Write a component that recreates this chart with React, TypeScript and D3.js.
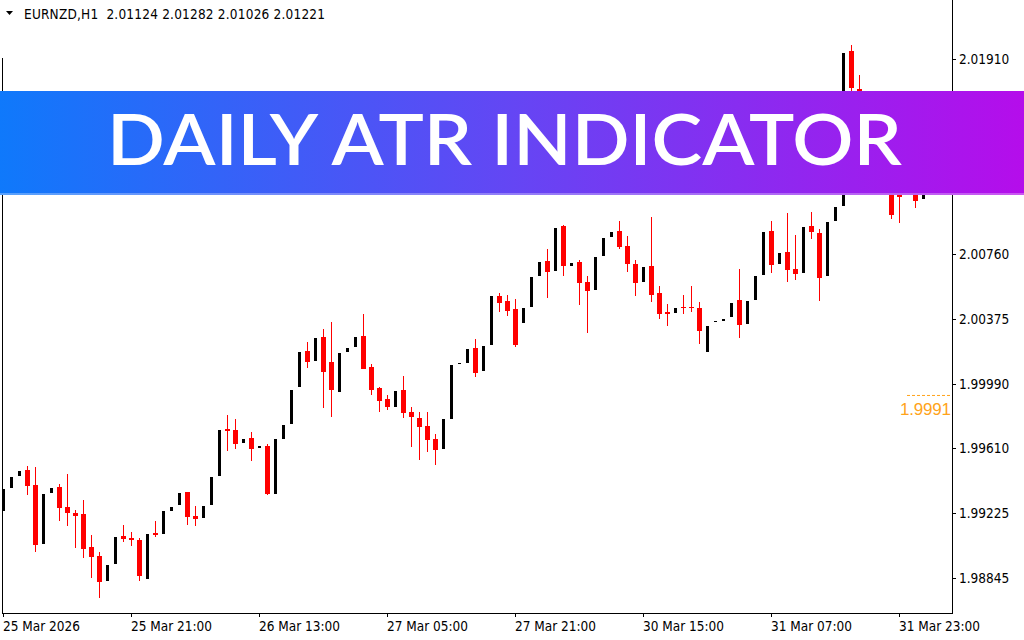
import React from 'react';
import * as d3 from 'd3';

// ---- Data (EURNZD, H1) ----
const symbolLabel = 'EURNZD,H1';
const headerQuote = ['2.01124', '2.01282', '2.01026', '2.01221'];

const opens = [
  1.99241, 1.99377, 1.99448, 1.99481, 1.99393, 1.99046, 1.99347, 1.99381, 1.99263, 1.99229,
  1.99221, 1.99026, 1.98973, 1.98827, 1.98928, 1.99091, 1.99080, 1.99068, 1.98837, 1.99109,
  1.99105, 1.99241, 1.99276, 1.99351, 1.99210, 1.99200, 1.99276, 1.99448, 1.99724, 1.99718,
  1.99643, 1.99671, 1.99613, 1.99623, 1.99342, 1.99666, 1.99755, 1.99972, 2.00185, 2.00125,
  2.00267, 2.00120, 1.99942, 2.00179, 2.00208, 2.00273, 2.00090, 1.99966, 1.99901, 1.99854,
  1.99954, 1.99824, 1.99789, 1.99741, 1.99665, 1.99606, 1.99783, 2.00108, 2.00114, 2.00202,
  2.00066, 2.00220, 2.00510, 2.00480, 2.00433, 2.00350, 2.00445, 2.00628, 2.00716, 2.00657,
  2.00923, 2.00687, 2.00710, 2.00592, 2.00545, 2.00746, 2.00858, 2.00894, 2.00805, 2.00699,
  2.00592, 2.00687, 2.00527, 2.00415, 2.00409, 2.00445, 2.00445, 2.00439, 2.00179, 2.00356,
  2.00362, 2.00385, 2.00486, 2.00344, 2.00486, 2.00634, 2.00894, 2.00699, 2.00770, 2.00669,
  2.00646, 2.00923, 2.00882, 2.00628, 2.00953, 2.01041, 2.01957, 2.01733, 2.01490, 2.01400,
  2.01470, 2.01330, 2.01120, 2.01130, 2.01190, 2.01081,
];
const highs = [
  1.99369, 1.99440, 1.99475, 1.99505, 1.99499, 1.99340, 1.99375, 1.99399, 1.99458, 1.99245,
  1.99304, 1.99097, 1.98999, 1.98920, 1.99086, 1.99156, 1.99115, 1.99078, 1.99103, 1.99180,
  1.99239, 1.99263, 1.99346, 1.99351, 1.99269, 1.99269, 1.99440, 1.99718, 1.99806, 1.99783,
  1.99665, 1.99706, 1.99623, 1.99635, 1.99665, 1.99747, 1.99954, 2.00179, 2.00238, 2.00261,
  2.00315, 2.00356, 2.00173, 2.00202, 2.00267, 2.00403, 2.00108, 1.99972, 1.99925, 1.99948,
  2.00037, 1.99854, 1.99824, 1.99824, 1.99694, 1.99783, 2.00102, 2.00114, 2.00196, 2.00256,
  2.00214, 2.00510, 2.00527, 2.00515, 2.00492, 2.00439, 2.00622, 2.00710, 2.00787, 2.00911,
  2.00929, 2.00705, 2.00722, 2.00628, 2.00740, 2.00852, 2.00888, 2.00953, 2.00864, 2.00722,
  2.00681, 2.00976, 2.00569, 2.00462, 2.00439, 2.00515, 2.00569, 2.00474, 2.00332, 2.00362,
  2.00374, 2.00468, 2.00669, 2.00480, 2.00628, 2.00888, 2.00953, 2.00764, 2.01000, 2.00870,
  2.00917, 2.01006, 2.00905, 2.00947, 2.01035, 2.01945, 2.01993, 2.01815, 2.01530, 2.01470,
  2.01500, 2.01360, 2.01200, 2.01190, 2.01220, 2.01282,
];
const lows = [
  1.99241, 1.99377, 1.99448, 1.99336, 1.98999, 1.99046, 1.99347, 1.99180, 1.99152, 1.99021,
  1.98961, 1.98845, 1.98727, 1.98827, 1.98928, 1.99058, 1.99034, 1.98827, 1.98837, 1.99087,
  1.99105, 1.99241, 1.99276, 1.99158, 1.99152, 1.99200, 1.99276, 1.99448, 1.99595, 1.99607,
  1.99643, 1.99537, 1.99613, 1.99334, 1.99342, 1.99666, 1.99755, 1.99972, 2.00086, 2.00125,
  1.99848, 1.99795, 1.99942, 2.00179, 2.00208, 2.00078, 1.99925, 1.99824, 1.99836, 1.99854,
  1.99789, 1.99617, 1.99540, 1.99588, 1.99511, 1.99606, 1.99783, 2.00108, 2.00114, 2.00031,
  2.00066, 2.00220, 2.00415, 2.00391, 2.00208, 2.00350, 2.00445, 2.00628, 2.00498, 2.00657,
  2.00628, 2.00687, 2.00456, 2.00291, 2.00545, 2.00746, 2.00858, 2.00787, 2.00651, 2.00510,
  2.00592, 2.00474, 2.00374, 2.00332, 2.00409, 2.00403, 2.00415, 2.00226, 2.00179, 2.00356,
  2.00362, 2.00385, 2.00261, 2.00344, 2.00486, 2.00634, 2.00646, 2.00699, 2.00592, 2.00604,
  2.00646, 2.00846, 2.00480, 2.00628, 2.00953, 2.01041, 2.01697, 2.01431, 2.01350, 2.01400,
  2.01300, 2.00965, 2.00941, 2.01130, 2.01030, 2.01026,
];
const closes = [
  1.99369, 1.99440, 1.99475, 1.99389, 1.99040, 1.99340, 1.99375, 1.99259, 1.99229, 1.99211,
  1.99016, 1.98967, 1.98821, 1.98920, 1.99086, 1.99075, 1.99070, 1.98853, 1.99103, 1.99099,
  1.99239, 1.99263, 1.99346, 1.99205, 1.99194, 1.99269, 1.99440, 1.99718, 1.99714, 1.99637,
  1.99665, 1.99607, 1.99623, 1.99340, 1.99665, 1.99747, 1.99954, 2.00179, 2.00121, 2.00261,
  2.00060, 1.99954, 2.00173, 2.00202, 2.00267, 2.00078, 1.99954, 1.99889, 1.99854, 1.99948,
  1.99818, 1.99795, 1.99735, 1.99659, 1.99600, 1.99783, 2.00102, 2.00114, 2.00196, 2.00055,
  2.00214, 2.00510, 2.00468, 2.00421, 2.00220, 2.00439, 2.00622, 2.00710, 2.00651, 2.00911,
  2.00687, 2.00705, 2.00587, 2.00539, 2.00740, 2.00852, 2.00888, 2.00799, 2.00699, 2.00587,
  2.00681, 2.00515, 2.00403, 2.00403, 2.00439, 2.00439, 2.00439, 2.00303, 2.00332, 2.00362,
  2.00374, 2.00468, 2.00338, 2.00480, 2.00628, 2.00888, 2.00693, 2.00764, 2.00663, 2.00640,
  2.00917, 2.00888, 2.00616, 2.00947, 2.01035, 2.01945, 2.01740, 2.01490, 2.01400, 2.01470,
  2.01330, 2.00988, 2.01095, 2.01190, 2.01073, 2.01221,
];

const priceTicks = [1.98845, 1.99225, 1.9961, 1.9999, 2.00375, 2.0076, 2.0114, 2.01525, 2.0191];
const timeTickBars = [0, 16, 32, 48, 64, 80, 96, 112];
const timeTickLabels = [
  '25 Mar 2026', '25 Mar 21:00', '26 Mar 13:00', '27 Mar 05:00',
  '27 Mar 21:00', '30 Mar 15:00', '31 Mar 07:00', '31 Mar 23:00',
];
const atrLevel = 1.9991;
const atrLabel = '1.9991';
const bannerTitle = 'DAILY ATR INDICATOR';

const AXIS_FONT = '"DejaVu Sans Condensed", "DejaVu Sans", sans-serif';

export default function App() {
  const W = 1024;
  const H = 640;
  const plotRight = 952;
  const plotBottom = 613;

  const x = d3.scaleLinear().domain([0, opens.length - 1]).range([3.5, 3.5 + 8 * (opens.length - 1)]);
  const y = d3.scaleLinear().domain([1.98845, 2.0191]).range([577.7, 59]);

  const candles = opens.map((o, i) => ({ o, h: highs[i], l: lows[i], c: closes[i], i }));

  return (
    <svg width={W} height={H} style={{ position: 'absolute', left: 0, top: 0, background: '#fff' }}>
      <defs>
        <linearGradient id="bannerGrad" x1="0" x2="1" y1="0" y2="0">
          <stop offset="0%" stopColor="#0f79fb" />
          <stop offset="50%" stopColor="#6446f4" />
          <stop offset="100%" stopColor="#b50deb" />
        </linearGradient>
      </defs>
      <rect x={0} y={0} width={W} height={H} fill="#ffffff" />

      {/* candles */}
      <g>
        {candles.map((d) => {
          const cx = x(d.i);
          const bull = d.c >= d.o;
          const top = y(Math.max(d.o, d.c));
          const bot = y(Math.min(d.o, d.c));
          const hgt = Math.max(1, bot - top);
          if (bull) {
            return (
              <rect key={d.i} x={cx - 1.5} y={top} width={3} height={hgt} fill="#000" shapeRendering="crispEdges" />
            );
          }
          return (
            <g key={d.i}>
              <rect x={cx - 0.5} y={y(d.h)} width={1} height={y(d.l) - y(d.h)} fill="#ff0000" shapeRendering="crispEdges" />
              <rect x={cx - 2.5} y={top} width={5} height={hgt} fill="#ff0000" shapeRendering="crispEdges" />
            </g>
          );
        })}
      </g>

      {/* ATR level */}
      <line x1={907} x2={plotRight} y1={y(atrLevel) - 2} y2={y(atrLevel) - 2} stroke="#ffa31a" strokeWidth={1} strokeDasharray="3,2" />
      <text x={951} y={y(atrLevel) + 18} textAnchor="end" fill="#ffa31a" fontFamily='"Liberation Sans", Arial, sans-serif' fontSize={17} textLength={51} lengthAdjust="spacing">
        {atrLabel}
      </text>

      {/* frame & axes */}
      <line x1={2.5} x2={2.5} y1={58} y2={plotBottom} stroke="#000" strokeWidth={1} />
      <line x1={plotRight + 0.5} x2={plotRight + 0.5} y1={0} y2={plotBottom + 0.5} stroke="#000" strokeWidth={1} />
      <line x1={2} x2={plotRight + 1} y1={plotBottom + 0.5} y2={plotBottom + 0.5} stroke="#000" strokeWidth={1} />

      {priceTicks.map((p) => (
        <g key={p}>
          <line x1={plotRight} x2={plotRight + 4} y1={Math.round(y(p)) + 0.5} y2={Math.round(y(p)) + 0.5} stroke="#000" />
          <text x={959} y={y(p) + 5} fontFamily={AXIS_FONT} fontSize={13.5} style={{ fontStretch: 'condensed' }} fill="#000">
            {p.toFixed(5)}
          </text>
        </g>
      ))}

      {timeTickBars.map((b, k) => (
        <g key={b}>
          <line x1={Math.floor(x(b)) + 0.5} x2={Math.floor(x(b)) + 0.5} y1={plotBottom} y2={plotBottom + 4} stroke="#000" />
          <text x={Math.floor(x(b))} y={631} fontFamily={AXIS_FONT} fontSize={13.5} style={{ fontStretch: 'condensed' }} fill="#000">
            {timeTickLabels[k]}
          </text>
        </g>
      ))}

      {/* header */}
      <polygon points="6,11 13,11 9.5,15" fill="#000" />
      <text x={24} y={19} fontFamily={AXIS_FONT} fontSize={13.5} style={{ fontStretch: 'condensed' }} fill="#000" xmlSpace="preserve" textLength={301} lengthAdjust="spacing">
        {symbolLabel + '  ' + headerQuote.join(' ')}
      </text>

      {/* banner */}
      <rect x={0} y={91} width={W} height={104} fill="url(#bannerGrad)" />
      <rect x={0} y={193} width={W} height={2} fill="#ffffff" opacity={0.3} />
      <text
        x={504.5}
        y={165}
        textAnchor="middle"
        fill="#ffffff"
        fontFamily="Lato, 'Open Sans', sans-serif"
        fontWeight={600}
        fontSize={72}
        textLength={795}
        lengthAdjust="spacingAndGlyphs"
      >
        {bannerTitle}
      </text>
    </svg>
  );
}
